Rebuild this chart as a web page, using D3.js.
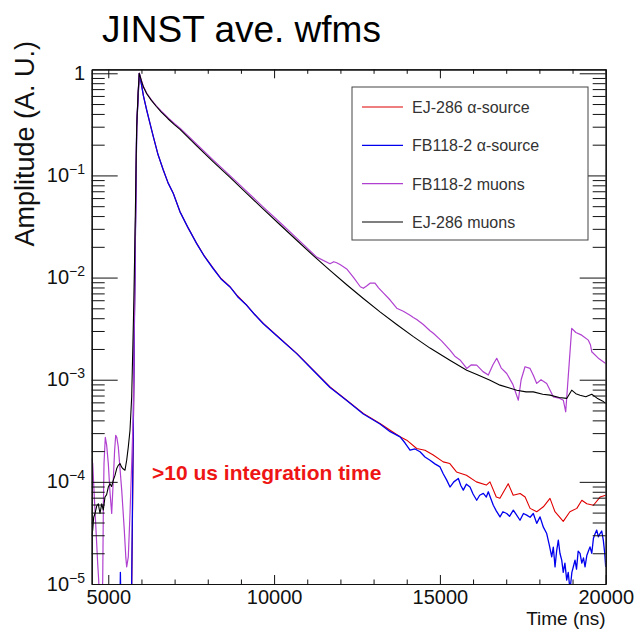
<!DOCTYPE html>
<html><head><meta charset="utf-8">
<script src="https://cdn.jsdelivr.net/npm/d3@7"></script>
<style>
body{margin:0;background:#fff;}
svg{display:block;font-family:"Liberation Sans",Arial,Helvetica,sans-serif;}
</style>
</head><body>
<svg id="chart" width="635" height="629"></svg>
<script>
// ---------- data (time in ns, amplitude in A.U.) ----------
const timeRed = [4500,5690,5736,5797,5857,5935,6000,6060,6158,6250,6358,6500,6659,6800,6961,7163,7400,7666,7900,8167,8400,8671,8900,9174,9400,9675,10179,10682,11183,11687,12190,12691,13194,13500,13800,14000,14300,14550,14800,15100,15300,15500,15800,16100,16400,16510,16700,16810,17060,17210,17420,17570,17720,17920,18120,18320,18470,18720,18920,19130,19280,19430,19630,19830,20000];
const ampRed = [3e-6,3e-6,6.6e-5,0.007,0.3,1,0.78,0.6,0.437,0.33,0.24,0.16,0.113,0.085,0.0668,0.0441,0.031,0.0216,0.0162,0.0123,0.0098,0.00813,0.0066,0.00538,0.0044,0.00356,0.00254,0.00181,0.00124,0.00085,0.00063,0.000468,0.000373,0.00032,0.000276,0.000256,0.000212,0.000204,0.000183,0.000157,0.000151,0.000125,0.000116,0.0001,0.000093,0.0001,0.000071,0.000069,0.000096,0.000074,0.000077,0.000071,0.000055,0.000051,0.000057,0.000069,0.000051,0.000041,0.000051,0.000055,0.000066,0.000061,0.000059,0.000071,0.000074];

const timeBlue = [4500,5340,5365,5395,5690,5730,5797,5857,5935,6000,6060,6158,6250,6358,6500,6659,6800,6961,7163,7400,7666,7900,8167,8400,8671,8900,9174,9400,9675,10179,10682,11183,11687,12190,12691,13194,13500,13800,13950,14099,14250,14401,14550,14702,14850,15004,15100,15206,15305,15420,15556,15630,15706,15800,15908,16000,16110,16200,16310,16400,16460,16540,16611,16700,16813,16900,17015,17100,17214,17300,17416,17520,17618,17720,17817,17920,18020,18120,18221,18300,18372,18420,18472,18520,18571,18620,18674,18720,18770,18825,18870,18924,18980,19030,19075,19120,19170,19226,19280,19330,19377,19430,19480,19527,19580,19630,19680,19729,19780,19829,19880,19928,19970,20000];
const ampBlue = [3e-6,3e-6,1.3e-5,3e-6,3e-6,6.6e-5,0.007,0.3,1,0.78,0.6,0.437,0.33,0.24,0.16,0.113,0.085,0.0665,0.044,0.031,0.0215,0.0161,0.0122,0.0097,0.0081,0.0065,0.00535,0.0044,0.00353,0.00252,0.0018,0.00123,0.00084,0.000625,0.000462,0.000368,0.00031,0.000276,0.00024,0.000204,0.00021,0.000197,0.000175,0.000163,0.00015,0.00014,0.00012,0.000104,0.000089,0.0001,0.000108,0.000092,0.000083,0.000095,0.000089,0.000076,0.000066,0.000074,0.000077,0.000071,0.00008,0.000068,0.000059,0.000052,0.0000454,0.000051,0.000049,0.000046,0.0000528,0.000048,0.0000421,0.000049,0.0000472,0.000045,0.000049,0.0000392,0.0000454,0.000036,0.0000312,0.000024,0.0000184,0.000023,0.0000147,0.000021,0.0000269,0.00002,0.0000171,0.000013,0.000016,0.0000109,0.000013,0.0000087,0.000013,0.000015,0.0000171,0.000014,0.000021,0.0000199,0.000016,0.000018,0.0000147,0.000019,0.000021,0.0000231,0.00002,0.000028,0.000031,0.0000337,0.000029,0.0000312,0.000033,0.0000269,0.00002,0.0000147];

const timePurple = [4500,4530,4580,4630,4680,4711,4750,4800,4832,4850,4871,4910,4950,5001,5050,5103,5151,5190,5224,5260,5302,5350,5405,5483,5530,5555,5604,5655,5706,5755,5800,5857,5900,5935,6000,6060,6159,6300,6450,6600,6800,7000,7163,7400,7666,8167,8671,9174,9675,10179,10682,11285,11686,11800,11888,12000,12190,12400,12600,12691,12800,12893,13043,13150,13294,13500,13698,13897,14100,14199,14301,14500,14702,14802,15050,15305,15450,15607,15809,15950,16110,16300,16460,16600,16714,16850,17015,17200,17365,17450,17567,17718,17820,17920,18050,18221,18420,18600,18722,18794,18975,19100,19277,19476,19540,19579,19800,20000];
const ampPurple = [1.7e-4,1.51e-4,7e-5,3.37e-5,1.6e-5,1.09e-5,5e-6,5e-6,1.09e-5,5e-5,1.51e-4,2.72e-4,2.3e-4,1.51e-4,8e-5,4.9e-5,1.04e-4,2.0e-4,2.86e-4,2.7e-4,2.2e-4,1.4e-4,8.3e-5,3.37e-5,1.8e-5,1.47e-5,1.84e-5,4.9e-5,1.51e-4,4.7e-4,0.01,0.3,0.65,1,0.85,0.74,0.64,0.55,0.48,0.425,0.367,0.321,0.29,0.245,0.202,0.141,0.0995,0.0698,0.049,0.0346,0.0243,0.01585,0.01365,0.0143,0.01396,0.01334,0.01216,0.01,0.00813,0.00785,0.00832,0.00881,0.00881,0.00794,0.00708,0.00603,0.00501,0.00468,0.00427,0.00407,0.00389,0.00347,0.00302,0.00285,0.0024,0.00195,0.0017,0.00156,0.00129,0.0014,0.00139,0.0012,0.00111,0.0014,0.00162,0.0013,0.00115,0.0009,0.00063,0.001,0.00134,0.00129,0.0011,0.00092,0.001,0.00092,0.00068,0.00066,0.00063,0.000485,0.00318,0.0029,0.00273,0.00244,0.0022,0.00188,0.0016,0.00144];

const timeBlack = [4500,4530,4560,4600,4650,4699,4750,4802,4850,4901,4950,5001,5052,5100,5151,5200,5254,5300,5353,5400,5435,5504,5555,5604,5655,5706,5760,5800,5857,5900,5935,6000,6060,6159,6300,6450,6600,6800,7000,7163,7400,7666,8167,8671,9174,9675,10179,10682,11183,11686,12190,12691,13194,13698,14200,14702,15300,15809,16150,16512,16813,17100,17317,17600,17817,18100,18321,18600,18825,18975,19100,19226,19400,19579,19740,19900,20000];
const ampBlack = [3.0e-5,3.37e-5,4.5e-5,4.9e-5,5.8e-5,6.1e-5,4.9e-5,6.1e-5,5.3e-5,7.1e-5,7.5e-5,8.9e-5,9.6e-5,9.0e-5,1.04e-4,1.15e-4,1.35e-4,1.45e-4,1.51e-4,1.4e-4,1.35e-4,1.3e-4,1.63e-4,2.2e-4,3.2e-4,6.8e-4,0.004,0.02,0.3,0.65,1,0.841,0.733,0.631,0.543,0.473,0.417,0.359,0.313,0.282,0.237,0.195,0.136,0.0955,0.0668,0.0468,0.0329,0.0232,0.0164,0.01175,0.00851,0.00624,0.00462,0.00347,0.00264,0.00204,0.00155,0.00124,0.00111,0.00099,0.000885,0.00083,0.00079,0.00076,0.00076,0.00072,0.000706,0.00067,0.000656,0.00079,0.00073,0.000706,0.00068,0.00072,0.00066,0.00062,0.000586];

const seriesNames = ["EJ-286 \u03b1-source","FB118-2 \u03b1-source","FB118-2 muons","EJ-286 muons"];
const seriesColors = ["#e00000","#0000ee","#b040d0","#000000"];
const xMajorTicks = [5000,10000,15000,20000];
const xMinorTicks = [5000,6000,7000,8000,9000,10000,11000,12000,13000,14000,15000,16000,17000,18000,19000,20000];
const yDecadeExps = [0,-1,-2,-3,-4,-5];
const titleText = "JINST ave. wfms";
const xTitle = "Time (ns)";
const yTitle = "Amplitude (A. U.)";
const noteText = ">10 us integration time";

// ---------- layout ----------
const L = 91.7, R = 605.7, T = 69.3, B = 584;
const svg = d3.select("#chart");
const x = d3.scaleLinear().domain([4500, 20000]).range([L, R]);
const y = d3.scaleLog().domain([1e-5, 1.094]).range([B, T]);

svg.append("rect").attr("width",635).attr("height",629).attr("fill","#fff");

svg.append("clipPath").attr("id","frameclip").append("rect")
  .attr("x",L).attr("y",T).attr("width",R-L).attr("height",B-T);

// curves
const series = [
  {t: timeRed, a: ampRed, c: seriesColors[0], w: 1.1},
  {t: timeBlue, a: ampBlue, c: seriesColors[1], w: 1.3},
  {t: timePurple, a: ampPurple, c: seriesColors[2], w: 1.2},
  {t: timeBlack, a: ampBlack, c: seriesColors[3], w: 1.1}
];
const line = d3.line().x(d => x(d[0])).y(d => y(d[1]));
const g = svg.append("g").attr("clip-path","url(#frameclip)");
series.forEach(s => {
  const pts = s.t.map((t,i) => [t, s.a[i]]);
  g.append("path").attr("d", line(pts)).attr("fill","none")
    .attr("stroke", s.c).attr("stroke-width", s.w).attr("stroke-linejoin","round");
});

// axes
const yMajor = yDecadeExps.map(e => Math.pow(10, e));
const yMinor = [];
yDecadeExps.slice(1).forEach(e => { for (let k = 2; k <= 9; k++) yMinor.push(k * Math.pow(10, e)); });
const xMinorOnly = xMinorTicks.filter(v => !xMajorTicks.includes(v));

function styleAxis(sel){
  sel.selectAll("path.domain").attr("stroke","#111").attr("stroke-width",1.2);
  sel.selectAll(".tick line").attr("stroke","#111").attr("stroke-width",1);
  sel.selectAll(".tick text").remove();
}
const bx1 = svg.append("g").attr("transform",`translate(0,${B})`)
  .call(d3.axisBottom(x).tickValues(xMajorTicks).tickSizeInner(-9).tickSizeOuter(0).tickPadding(6).tickFormat(d3.format("d")));
bx1.selectAll("path.domain").attr("stroke","#111").attr("stroke-width",1.2);
bx1.selectAll(".tick line").attr("stroke","#111");
bx1.selectAll(".tick text").attr("font-size",20).attr("fill","#111").attr("font-family","Liberation Sans, Arial, sans-serif");
styleAxis(svg.append("g").attr("transform",`translate(0,${B})`)
  .call(d3.axisBottom(x).tickValues(xMinorOnly).tickSizeInner(-4.5).tickSizeOuter(0).tickFormat("")));
styleAxis(svg.append("g").attr("transform",`translate(0,${T})`)
  .call(d3.axisTop(x).tickValues(xMajorTicks).tickSizeInner(-9).tickSizeOuter(0).tickFormat("")));
styleAxis(svg.append("g").attr("transform",`translate(0,${T})`)
  .call(d3.axisTop(x).tickValues(xMinorOnly).tickSizeInner(-4.5).tickSizeOuter(0).tickFormat("")));
styleAxis(svg.append("g").attr("transform",`translate(${L},0)`)
  .call(d3.axisLeft(y).tickValues(yMajor).tickSizeInner(-26).tickSizeOuter(0).tickFormat("")));
styleAxis(svg.append("g").attr("transform",`translate(${L},0)`)
  .call(d3.axisLeft(y).tickValues(yMinor).tickSizeInner(-13).tickSizeOuter(0).tickFormat("")));
styleAxis(svg.append("g").attr("transform",`translate(${R},0)`)
  .call(d3.axisRight(y).tickValues(yMajor).tickSizeInner(-26).tickSizeOuter(0).tickFormat("")));
styleAxis(svg.append("g").attr("transform",`translate(${R},0)`)
  .call(d3.axisRight(y).tickValues(yMinor).tickSizeInner(-13).tickSizeOuter(0).tickFormat("")));

// y tick labels
yDecadeExps.forEach(e => {
  const v = Math.pow(10, e);
  const t = svg.append("text").attr("x", 85).attr("y", y(v) + 6.5)
    .attr("text-anchor","end").attr("font-size",20).attr("fill","#111");
  if (e === 0) { t.text("1"); }
  else {
    t.append("tspan").text("10");
    t.append("tspan").attr("font-size",14).attr("dy",-8).text("\u2212" + (-e));
  }
});

// titles
svg.append("text").attr("x",102).attr("y",42).attr("font-size",37).attr("fill","#000").text(titleText);
svg.append("text").attr("x",R).attr("y",625).attr("text-anchor","end").attr("font-size",19).attr("fill","#111").text(xTitle);
svg.append("text").attr("transform","translate(34,41) rotate(-90)").attr("text-anchor","end")
  .attr("font-size",27).attr("fill","#111").text(yTitle);

// note
svg.append("text").attr("x",152).attr("y",480).attr("font-size",21).attr("font-weight","bold")
  .attr("fill","#ee1515").text(noteText);

// legend
const lg = svg.append("g");
lg.append("rect").attr("x",352).attr("y",87).attr("width",236).attr("height",153)
  .attr("fill","#fff").attr("stroke","#444").attr("stroke-width",1);
const rowY = d3.scalePoint().domain(seriesNames).range([107, 222]);
seriesNames.forEach((n,i) => {
  const yy = rowY(n);
  lg.append("line").attr("x1",362).attr("x2",403).attr("y1",yy).attr("y2",yy)
    .attr("stroke",seriesColors[i]).attr("stroke-width",1.2);
  lg.append("text").attr("x",412).attr("y",yy+6).attr("font-size",16).attr("fill","#333").text(n);
});
</script>
</body></html>
